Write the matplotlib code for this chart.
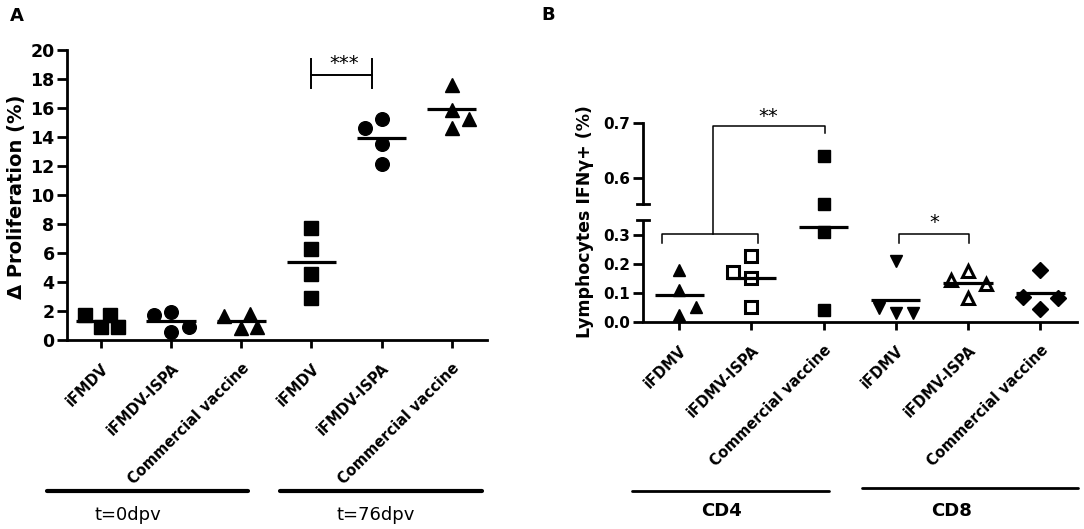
import numpy as np
import matplotlib
matplotlib.use("Agg")
import matplotlib.pyplot as plt
from matplotlib.lines import Line2D
from matplotlib.ticker import FixedLocator, NullLocator

plt.rcParams['font.family'] = ['DejaVu Sans']

# ---------------- Panel A data ----------------
a_labels = ["iFMDV", "iFMDV-ISPA", "Commercial vaccine",
            "iFMDV", "iFMDV-ISPA", "Commercial vaccine"]
a_values = [
    [1.72, 0.92, 1.72, 0.92],
    [1.72, 1.95, 0.57, 0.92],
    [1.66, 1.79, 0.80, 0.92],
    [7.75, 6.25, 4.53, 2.92],
    [14.64, 15.24, 13.52, 12.14],
    [17.59, 15.86, 14.64, 15.24],
]
a_means = [1.3, 1.3, 1.3, 5.4, 13.95, 15.93]
a_groups = ["t=0dpv", "t=76dpv"]
a_yticks = [0, 2, 4, 6, 8, 10, 12, 14, 16, 18, 20]

# ---------------- Panel B data ----------------
b_labels = ["iFDMV", "iFDMV-ISPA", "Commercial vaccine",
            "iFDMV", "iFDMV-ISPA", "Commercial vaccine"]
b_values = [
    [0.18, 0.11, 0.05, 0.023],
    [0.174, 0.228, 0.151, 0.052],
    [0.6405, 0.550, 0.31, 0.041],
    [0.211, 0.046, 0.029, 0.031],
    [0.145, 0.177, 0.13, 0.081],
    [0.18, 0.085, 0.081, 0.043],
]
b_means = [0.094, 0.151, 0.329, 0.075, 0.133, 0.099]
b_groups = ["CD4", "CD8"]
b_yticks = [0.0, 0.1, 0.2, 0.3, 0.6, 0.7]

# ---------------- style / layout ----------------
a_offsets = [
    [-0.23, 0, 0.13, 0.25],
    [-0.24, 0, 0, 0.25],
    [-0.24, 0.12, 0, 0.23],
    [0, 0, 0, 0],
    [-0.24, 0, 0, 0],
    [0, 0, 0, 0.24],
]
a_markers = [('s', 'k'), ('o', 'k'), ('^', 'k'), ('s', 'k'), ('o', 'k'), ('^', 'k')]
a_msize = [9.5, 9.8, 9.5, 9.5, 9.8, 9.5]

b_offsets = [
    [0, 0, 0.24, 0],
    [-0.25, 0, 0, 0],
    [0, 0, 0, 0],
    [0, -0.23, 0, 0.245],
    [-0.23, 0, 0.25, 0],
    [0, -0.24, 0.245, 0],
]
b_markers = [('^', 'k'), ('s', 'w'), ('s', 'k'), ('v', 'k'), ('^', 'w'), ('D', 'k')]
b_msize = [9, 8.3, 8.6, 9, 9, 8.2]

W, H = 1084, 529
fig = plt.figure(figsize=(W / 100, H / 100), dpi=100)

def fx(px):
    return px / W

def fy(py):
    return 1 - py / H

# ================= Panel A =================
axA = fig.add_axes([fx(67), fy(340), fx(487) - fx(67), fy(50) - fy(340)])
axA.set_xlim(-0.48, 5.5)
axA.set_ylim(0, 20)
for sp in ['top', 'right']:
    axA.spines[sp].set_visible(False)
for sp in ['left', 'bottom']:
    axA.spines[sp].set_linewidth(2.0)
axA.set_yticks(a_yticks)
axA.set_xticks(range(len(a_labels)))
axA.set_xticklabels(a_labels, rotation=45, ha='right', rotation_mode='anchor',
                    fontweight='bold', fontsize=10.5)
for lab in axA.get_yticklabels():
    lab.set_fontweight('bold')
    lab.set_fontsize(12.5)
axA.tick_params(axis='y', length=7, width=2.0, pad=2)
axA.tick_params(axis='x', length=6, width=2.0, pad=9)

for i, vals in enumerate(a_values):
    m, fc = a_markers[i]
    xs = [i + o for o in a_offsets[i]]
    axA.plot(xs, vals, linestyle='none', marker=m, markersize=a_msize[i],
             markerfacecolor=fc, markeredgecolor='k', markeredgewidth=1.0,
             clip_on=False, zorder=3)
    axA.plot([i - 0.35, i + 0.35], [a_means[i], a_means[i]], color='k', lw=2.3,
             solid_capstyle='butt', zorder=4)

# significance bracket A
axA.plot([3.0, 3.86], [18.28, 18.28], color='k', lw=1.4, clip_on=False)
axA.plot([3.0, 3.0], [17.4, 19.4], color='k', lw=1.4, clip_on=False)
axA.plot([3.86, 3.86], [17.4, 19.4], color='k', lw=1.4, clip_on=False)
axA.text(3.47, 19.1, "***", ha='center', va='center', fontsize=14)

fig.text(fx(17), fy(197), "Δ Proliferation (%)", rotation=90, ha='center',
         va='center', fontsize=14, fontweight='bold')

# ================= Panel B (broken y axis) =================
L1, U0 = 0.353, 0.553
S1, SG, S2 = 288.0, 80.0, 550.0
P1 = L1 * S1
P2 = P1 + (U0 - L1) * SG

def fwd(y):
    y = np.asarray(y, dtype=float)
    return np.where(y <= L1, y * S1,
                    np.where(y <= U0, P1 + (y - L1) * SG, P2 + (y - U0) * S2))

def inv(p):
    p = np.asarray(p, dtype=float)
    return np.where(p <= P1, p / S1,
                    np.where(p <= P2, L1 + (p - P1) / SG, U0 + (p - P2) / S2))

axB = fig.add_axes([fx(643), fy(321.7), fx(1077) - fx(643), fy(123.3) - fy(321.7)])
axB.set_yscale('function', functions=(fwd, inv))
axB.set_xlim(-0.5, 5.51)
axB.set_ylim(0, 0.7)
for sp in ['top', 'right', 'left']:
    axB.spines[sp].set_visible(False)
axB.spines['bottom'].set_linewidth(2.0)
axB.yaxis.set_major_locator(FixedLocator(b_yticks))
axB.yaxis.set_minor_locator(NullLocator())
axB.set_yticklabels([f"{v:.1f}" for v in b_yticks], fontweight='bold', fontsize=11)
axB.set_xticks(range(len(b_labels)))
axB.set_xticklabels(b_labels, rotation=45, ha='right', rotation_mode='anchor',
                    fontweight='bold', fontsize=10.5)
axB.tick_params(axis='y', length=7, width=2.0, pad=2)
axB.tick_params(axis='x', length=6, width=2.0, pad=9)

ytr = axB.get_yaxis_transform()
capw = 6 / (1077 - 643)
axB.plot([0, 0], [0, L1], transform=ytr, color='k', lw=2.0, clip_on=False,
         solid_capstyle='butt')
axB.plot([0, 0], [U0, 0.7], transform=ytr, color='k', lw=2.0, clip_on=False,
         solid_capstyle='projecting')
axB.plot([-capw, capw], [L1, L1], transform=ytr, color='k', lw=2.0, clip_on=False)
axB.plot([-capw, capw], [U0, U0], transform=ytr, color='k', lw=2.0, clip_on=False)

for i, vals in enumerate(b_values):
    m, fc = b_markers[i]
    xs = [i + o for o in b_offsets[i]]
    mew = 2.2 if fc == 'w' else 1.0
    axB.plot(xs, vals, linestyle='none', marker=m, markersize=b_msize[i],
             markerfacecolor=fc, markeredgecolor='k', markeredgewidth=mew,
             clip_on=False, zorder=3)
    axB.plot([i - 0.34, i + 0.34], [b_means[i], b_means[i]], color='k', lw=2.3,
             solid_capstyle='butt', zorder=4)

# brackets B
blw = 1.1
axB.plot([-0.235, -0.235, 1.09, 1.09], [0.272, 0.303, 0.303, 0.272],
         color='k', lw=blw, clip_on=False)
axB.plot([0.47, 0.47, 2.02, 2.02], [0.303, 0.695, 0.695, 0.682],
         color='k', lw=blw, clip_on=False)
axB.text(1.24, 0.712, "**", ha='center', va='center', fontsize=14)
axB.plot([3.05, 3.05, 4.02, 4.02], [0.272, 0.303, 0.303, 0.272],
         color='k', lw=blw, clip_on=False)
axB.text(3.53, 0.345, "*", ha='center', va='center', fontsize=14)

fig.text(fx(585), fy(222), "Lymphocytes IFNγ+ (%)", rotation=90, ha='center',
         va='center', fontsize=12.5, fontweight='bold')

# ================= group bars and labels =================
def hline(x0, x1, y, lw):
    fig.add_artist(Line2D([fx(x0), fx(x1)], [fy(y), fy(y)], color='k', lw=lw,
                          solid_capstyle='round', transform=fig.transFigure))

hline(47, 248, 491, 3.0)
hline(280, 482, 491, 3.0)
fig.text(fx(128), fy(515), a_groups[0], ha='center', va='center', fontsize=13)
fig.text(fx(376), fy(515), a_groups[1], ha='center', va='center', fontsize=13)

hline(632, 829, 491, 2.0)
hline(862, 1078, 488, 2.0)
fig.text(fx(721), fy(511), b_groups[0], ha='center', va='center', fontsize=13,
         fontweight='bold')
fig.text(fx(952), fy(511), b_groups[1], ha='center', va='center', fontsize=13,
         fontweight='bold')

fig.text(fx(17), fy(16), "A", ha='center', va='center', fontsize=13, fontweight='bold')
fig.text(fx(548), fy(15), "B", ha='center', va='center', fontsize=13, fontweight='bold')

fig.savefig("out.png", dpi=100, facecolor='white')
